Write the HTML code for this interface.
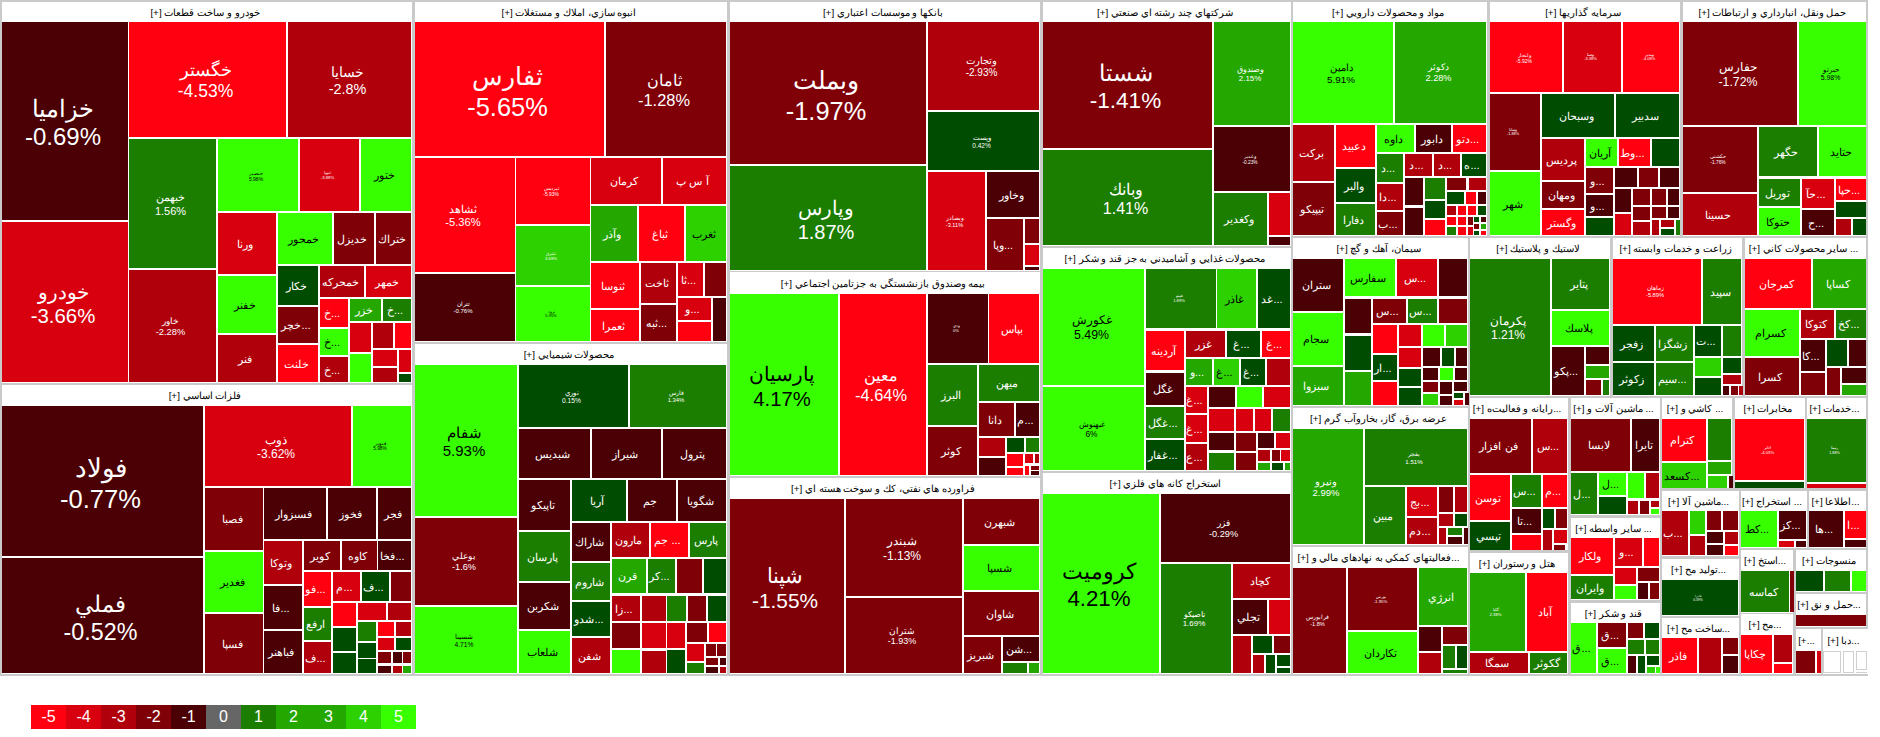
<!DOCTYPE html>
<html><head><meta charset="utf-8"><title>map</title>
<style>
html,body{margin:0;padding:0;background:#fff;}
body{width:1880px;height:737px;position:relative;overflow:hidden;font-family:"Liberation Sans",sans-serif;}
#m{position:absolute;left:0;top:0;width:1868px;height:676px;background:#cacaca;}
.s{position:absolute;background:#fff;}
.h{box-sizing:border-box;padding-right:4px;position:absolute;left:0;right:0;top:0;text-align:center;white-space:nowrap;overflow:hidden;color:#000;font-size:9.9px;direction:rtl;}
.c{box-sizing:border-box;padding-right:4px;position:absolute;display:flex;flex-direction:column;align-items:center;justify-content:center;overflow:hidden;white-space:nowrap;color:#fff;line-height:1.2;direction:ltr;}
.k{color:#000;}
.c span{display:block;}
.w{box-shadow:inset 0 0 0 1px #d0d0d0;}
#lg{position:absolute;left:31px;top:705px;height:24px;display:flex;}
#lg div{width:35px;height:24px;line-height:24px;text-align:center;color:#fff;font-size:16px;}
</style></head><body><div id="m">

<div class="s" style="left:2px;top:2px;width:410px;height:381px">
<div class="h" style="height:19px;line-height:21px">خودرو و ساخت قطعات [+]</div>
<div class="c" style="left:0px;top:20px;width:126px;height:198px;background:#4a0004"><span style="font-size:24.0px;height:28.8px;line-height:28.8px;margin-top:4.8px">خزاميا</span><span style="font-size:24.0px;height:28.8px;line-height:28.8px">-0.69%</span></div>
<div class="c" style="left:0px;top:220px;width:126px;height:160px;background:#d8000f"><span style="font-size:20.4px;height:24.5px;line-height:24.5px;margin-top:4.1px">خودرو</span><span style="font-size:20.4px;height:24.5px;line-height:24.5px">-3.66%</span></div>
<div class="c" style="left:127px;top:20px;width:157px;height:115px;background:#ff0010"><span style="font-size:17.5px;height:21.0px;line-height:21.0px;margin-top:3.5px">خگستر</span><span style="font-size:17.5px;height:21.0px;line-height:21.0px">-4.53%</span></div>
<div class="c" style="left:286px;top:20px;width:123px;height:115px;background:#b0000c"><span style="font-size:14.4px;height:17.3px;line-height:17.3px;margin-top:2.9px">خسايا</span><span style="font-size:14.4px;height:17.3px;line-height:17.3px">-2.8%</span></div>
<div class="c" style="left:127px;top:137px;width:87px;height:129px;background:#1c7e00"><span style="font-size:11.0px;height:13.2px;line-height:13.2px;margin-top:2.2px">خبهمن</span><span style="font-size:11.0px;height:13.2px;line-height:13.2px">1.56%</span></div>
<div class="c" style="left:127px;top:268px;width:87px;height:112px;background:#b0000c"><span style="font-size:9.3px;height:11.2px;line-height:11.2px;margin-top:1.9px">خاور</span><span style="font-size:9.3px;height:11.2px;line-height:11.2px">-2.28%</span></div>
<div class="c k" style="left:216px;top:137px;width:80px;height:72px;background:#37ff00"><span style="font-size:5.0px;height:6.0px;line-height:6.0px;margin-top:1.0px">خنصير</span><span style="font-size:5.0px;height:6.0px;line-height:6.0px">5.98%</span></div>
<div class="c" style="left:298px;top:137px;width:59px;height:72px;background:#d8000f"><span style="font-size:4.2px;height:5.0px;line-height:5.0px;margin-top:0.8px">خپويا</span><span style="font-size:4.2px;height:5.0px;line-height:5.0px">-3.88%</span></div>
<div class="c k" style="left:359px;top:137px;width:50px;height:72px;background:#37ff00"><span style="font-size:10.9px;margin-top:2px">ختور</span></div>
<div class="c" style="left:216px;top:211px;width:58px;height:61px;background:#d8000f"><span style="font-size:10.9px;margin-top:2px">ورنا</span></div>
<div class="c k" style="left:276px;top:211px;width:54px;height:51px;background:#37ff00"><span style="font-size:10.9px;margin-top:2px">خمحور</span></div>
<div class="c" style="left:332px;top:211px;width:40px;height:51px;background:#800008"><span style="font-size:10.9px;margin-top:2px">خديزل</span></div>
<div class="c" style="left:374px;top:211px;width:35px;height:51px;background:#800008"><span style="font-size:10.9px;margin-top:2px">ختراك</span></div>
<div class="c k" style="left:216px;top:274px;width:58px;height:57px;background:#37ff00"><span style="font-size:10.9px;margin-top:2px">خفنر</span></div>
<div class="c" style="left:216px;top:333px;width:58px;height:47px;background:#b0000c"><span style="font-size:10.9px;margin-top:2px">فنر</span></div>
<div class="c" style="left:276px;top:264px;width:40px;height:39px;background:#004c00"><span style="font-size:10.9px;margin-top:2px">خكار</span></div>
<div class="c" style="left:276px;top:305px;width:40px;height:36px;background:#800008"><span style="font-size:10.9px;margin-top:2px">خچر...</span></div>
<div class="c" style="left:276px;top:343px;width:40px;height:37px;background:#ff0010"><span style="font-size:10.9px;margin-top:2px">خلنت</span></div>
<div class="c" style="left:318px;top:264px;width:44px;height:31px;background:#b0000c"><span style="font-size:10.9px;margin-top:2px">خمحركه</span></div>
<div class="c" style="left:364px;top:264px;width:45px;height:31px;background:#d8000f"><span style="font-size:10.9px;margin-top:2px">خمهر</span></div>
<div class="c" style="left:318px;top:297px;width:28px;height:28px;background:#ff0010"><span style="font-size:10.9px;margin-top:2px">خ...</span></div>
<div class="c k" style="left:318px;top:327px;width:28px;height:26px;background:#37ff00"><span style="font-size:10.9px;margin-top:2px">خ...</span></div>
<div class="c" style="left:318px;top:355px;width:28px;height:25px;background:#b0000c"><span style="font-size:10.9px;margin-top:2px">خ...</span></div>
<div class="c" style="left:348px;top:297px;width:31px;height:22px;background:#24a800"><span style="font-size:10.9px;margin-top:2px">خزر</span></div>
<div class="c" style="left:381px;top:297px;width:28px;height:22px;background:#1c7e00"><span style="font-size:10.9px;margin-top:2px">خ...</span></div>
<div class="c" style="left:348px;top:321px;width:21px;height:29px;background:#d8000f"></div>
<div class="c" style="left:371px;top:321px;width:20px;height:25px;background:#b0000c"></div>
<div class="c" style="left:393px;top:321px;width:16px;height:25px;background:#ff0010"></div>
<div class="c k" style="left:348px;top:352px;width:21px;height:28px;background:#37ff00"></div>
<div class="c" style="left:371px;top:348px;width:24px;height:16px;background:#d8000f"></div>
<div class="c" style="left:397px;top:348px;width:12px;height:22px;background:#d8000f"></div>
<div class="c" style="left:371px;top:366px;width:24px;height:14px;background:#b0000c"></div>
<div class="c" style="left:397px;top:372px;width:12px;height:8px;background:#004c00"></div>
</div>
<div class="s" style="left:2px;top:385px;width:410px;height:289px">
<div class="h" style="height:20px;line-height:22px">فلزات اساسي [+]</div>
<div class="c" style="left:0px;top:21px;width:201px;height:150px;background:#4a0004"><span style="font-size:25.5px;height:30.6px;line-height:30.6px;margin-top:5.1px">فولاد</span><span style="font-size:25.5px;height:30.6px;line-height:30.6px">-0.77%</span></div>
<div class="c" style="left:0px;top:173px;width:201px;height:115px;background:#4a0004"><span style="font-size:23.3px;height:28.0px;line-height:28.0px;margin-top:4.7px">فملي</span><span style="font-size:23.3px;height:28.0px;line-height:28.0px">-0.52%</span></div>
<div class="c" style="left:203px;top:21px;width:146px;height:80px;background:#d8000f"><span style="font-size:12.0px;height:14.4px;line-height:14.4px;margin-top:2.4px">ذوب</span><span style="font-size:12.0px;height:14.4px;line-height:14.4px">-3.62%</span></div>
<div class="c k" style="left:351px;top:21px;width:58px;height:80px;background:#37ff00"><span style="font-size:4.7px;height:5.6px;line-height:5.6px;margin-top:0.9px">فنوير</span><span style="font-size:4.7px;height:5.6px;line-height:5.6px">5.98%</span></div>
<div class="c" style="left:203px;top:103px;width:58px;height:62px;background:#800008"><span style="font-size:10.9px;margin-top:2px">فصبا</span></div>
<div class="c k" style="left:203px;top:167px;width:58px;height:60px;background:#37ff00"><span style="font-size:10.9px;margin-top:2px">فغدير</span></div>
<div class="c" style="left:203px;top:229px;width:58px;height:59px;background:#800008"><span style="font-size:10.9px;margin-top:2px">فسپا</span></div>
<div class="c" style="left:262px;top:103px;width:62px;height:51px;background:#4a0004"><span style="font-size:10.9px;margin-top:2px">فسبزوار</span></div>
<div class="c" style="left:326px;top:103px;width:48px;height:51px;background:#4a0004"><span style="font-size:10.9px;margin-top:2px">فخوز</span></div>
<div class="c" style="left:376px;top:103px;width:33px;height:51px;background:#4a0004"><span style="font-size:10.9px;margin-top:2px">فجر</span></div>
<div class="c" style="left:262px;top:156px;width:38px;height:43px;background:#b0000c"><span style="font-size:10.9px;margin-top:2px">وتوكا</span></div>
<div class="c" style="left:262px;top:201px;width:38px;height:43px;background:#4a0004"><span style="font-size:10.9px;margin-top:2px">فا...</span></div>
<div class="c" style="left:262px;top:246px;width:38px;height:42px;background:#4a0004"><span style="font-size:10.9px;margin-top:2px">فباهنر</span></div>
<div class="c" style="left:302px;top:156px;width:36px;height:29px;background:#800008"><span style="font-size:10.9px;margin-top:2px">كوير</span></div>
<div class="c" style="left:340px;top:156px;width:35px;height:29px;background:#800008"><span style="font-size:10.9px;margin-top:2px">كاوه</span></div>
<div class="c" style="left:376px;top:156px;width:33px;height:29px;background:#4a0004"><span style="font-size:10.9px;margin-top:2px">فخا...</span></div>
<div class="c" style="left:302px;top:187px;width:27px;height:34px;background:#ff0010"><span style="font-size:10.9px;margin-top:2px">فو...</span></div>
<div class="c" style="left:331px;top:187px;width:27px;height:29px;background:#d8000f"><span style="font-size:10.9px;margin-top:2px">م...</span></div>
<div class="c" style="left:360px;top:187px;width:27px;height:29px;background:#004c00"><span style="font-size:10.9px;margin-top:2px">ف...</span></div>
<div class="c" style="left:389px;top:187px;width:20px;height:29px;background:#800008"></div>
<div class="c" style="left:302px;top:223px;width:27px;height:32px;background:#1c7e00"><span style="font-size:10.9px;margin-top:2px">ارفع</span></div>
<div class="c" style="left:302px;top:257px;width:27px;height:31px;background:#b0000c"><span style="font-size:10.9px;margin-top:2px">ف...</span></div>
<div class="c" style="left:331px;top:218px;width:23px;height:23px;background:#ff0010"></div>
<div class="c" style="left:356px;top:218px;width:28px;height:17px;background:#d8000f"></div>
<div class="c" style="left:386px;top:218px;width:23px;height:17px;background:#b0000c"></div>
<div class="c" style="left:331px;top:243px;width:23px;height:23px;background:#004c00"></div>
<div class="c" style="left:331px;top:268px;width:23px;height:20px;background:#004c00"></div>
<div class="c" style="left:356px;top:237px;width:18px;height:19px;background:#1c7e00"></div>
<div class="c" style="left:356px;top:258px;width:18px;height:15px;background:#004c00"></div>
<div class="c" style="left:356px;top:274px;width:18px;height:14px;background:#004c00"></div>
<div class="c" style="left:376px;top:237px;width:16px;height:14px;background:#ff0010"></div>
<div class="c" style="left:394px;top:237px;width:15px;height:14px;background:#b0000c"></div>
<div class="c" style="left:376px;top:253px;width:16px;height:12px;background:#d8000f"></div>
<div class="c" style="left:394px;top:253px;width:15px;height:12px;background:#004c00"></div>
<div class="c" style="left:376px;top:267px;width:13px;height:11px;background:#800008"></div>
<div class="c" style="left:391px;top:267px;width:9px;height:11px;background:#4a0004"></div>
<div class="c" style="left:401px;top:267px;width:8px;height:11px;background:#800008"></div>
<div class="c" style="left:376px;top:281px;width:13px;height:7px;background:#4a0004"></div>
<div class="c" style="left:391px;top:281px;width:9px;height:7px;background:#b0000c"></div>
<div class="c" style="left:401px;top:281px;width:8px;height:7px;background:#24a800"></div>
</div>
<div class="s" style="left:415px;top:2px;width:312px;height:340px">
<div class="h" style="height:19px;line-height:21px">انبوه سازي، املاك و مستغلات [+]</div>
<div class="c" style="left:0px;top:20px;width:189px;height:134px;background:#ff0010"><span style="font-size:25.4px;height:30.5px;line-height:30.5px;margin-top:5.1px">ثفارس</span><span style="font-size:25.4px;height:30.5px;line-height:30.5px">-5.65%</span></div>
<div class="c" style="left:191px;top:20px;width:120px;height:134px;background:#800008"><span style="font-size:16.4px;height:19.7px;line-height:19.7px;margin-top:3.3px">ثامان</span><span style="font-size:16.4px;height:19.7px;line-height:19.7px">-1.28%</span></div>
<div class="c" style="left:0px;top:156px;width:100px;height:114px;background:#ff0010"><span style="font-size:11.2px;height:13.4px;line-height:13.4px;margin-top:2.2px">ثشاهد</span><span style="font-size:11.2px;height:13.4px;line-height:13.4px">-5.36%</span></div>
<div class="c" style="left:0px;top:272px;width:100px;height:67px;background:#4a0004"><span style="font-size:6.0px;height:7.2px;line-height:7.2px;margin-top:1.2px">ثتران</span><span style="font-size:6.0px;height:7.2px;line-height:7.2px">-0.76%</span></div>
<div class="c" style="left:101px;top:156px;width:74px;height:66px;background:#ff0010"><span style="font-size:4.9px;height:5.9px;line-height:5.9px;margin-top:1.0px">ثپرديس</span><span style="font-size:4.9px;height:5.9px;line-height:5.9px">-5.93%</span></div>
<div class="c" style="left:101px;top:224px;width:74px;height:59px;background:#2dd100"><span style="font-size:4.3px;height:5.2px;line-height:5.2px;margin-top:0.9px">ثشرق</span><span style="font-size:4.3px;height:5.2px;line-height:5.2px">3.69%</span></div>
<div class="c k" style="left:101px;top:285px;width:74px;height:54px;background:#37ff00"><span style="font-size:4.0px;height:4.8px;line-height:4.8px;margin-top:0.8px">ثرود</span><span style="font-size:4.0px;height:4.8px;line-height:4.8px">5.95%</span></div>
<div class="c" style="left:176px;top:156px;width:70px;height:46px;background:#d8000f"><span style="font-size:10.9px;margin-top:2px">كرمان</span></div>
<div class="c" style="left:248px;top:156px;width:63px;height:46px;background:#d8000f"><span style="font-size:10.9px;margin-top:2px">آ س پ</span></div>
<div class="c" style="left:176px;top:204px;width:46px;height:55px;background:#24a800"><span style="font-size:10.9px;margin-top:2px">وآذر</span></div>
<div class="c" style="left:224px;top:204px;width:45px;height:55px;background:#ff0010"><span style="font-size:10.9px;margin-top:2px">ثباغ</span></div>
<div class="c k" style="left:271px;top:204px;width:40px;height:55px;background:#2dd100"><span style="font-size:10.9px;margin-top:2px">ثغرب</span></div>
<div class="c" style="left:176px;top:261px;width:48px;height:45px;background:#ff0010"><span style="font-size:10.9px;margin-top:2px">ثنوسا</span></div>
<div class="c" style="left:176px;top:308px;width:48px;height:31px;background:#ff0010"><span style="font-size:10.9px;margin-top:2px">ثعمرا</span></div>
<div class="c" style="left:226px;top:261px;width:35px;height:40px;background:#b0000c"><span style="font-size:10.9px;margin-top:2px">ثاخت</span></div>
<div class="c" style="left:226px;top:303px;width:35px;height:36px;background:#800008"><span style="font-size:10.9px;margin-top:2px">ثبه...</span></div>
<div class="c" style="left:263px;top:261px;width:25px;height:33px;background:#d8000f"><span style="font-size:10.9px;margin-top:2px">ثا...</span></div>
<div class="c" style="left:290px;top:261px;width:21px;height:33px;background:#800008"></div>
<div class="c" style="left:263px;top:296px;width:33px;height:22px;background:#d8000f"><span style="font-size:10.9px;margin-top:2px">و...</span></div>
<div class="c" style="left:263px;top:320px;width:33px;height:19px;background:#ff0010"></div>
<div class="c" style="left:298px;top:296px;width:13px;height:43px;background:#4a0004"></div>
</div>
<div class="s" style="left:415px;top:344px;width:312px;height:330px">
<div class="h" style="height:20px;line-height:22px">محصولات شيميايي [+]</div>
<div class="c k" style="left:0px;top:21px;width:102px;height:151px;background:#37ff00"><span style="font-size:15.0px;height:18.0px;line-height:18.0px;margin-top:3.0px">شفام</span><span style="font-size:15.0px;height:18.0px;line-height:18.0px">5.93%</span></div>
<div class="c" style="left:0px;top:174px;width:102px;height:87px;background:#800008"><span style="font-size:9.2px;height:11.0px;line-height:11.0px;margin-top:1.8px">بوعلي</span><span style="font-size:9.2px;height:11.0px;line-height:11.0px">-1.6%</span></div>
<div class="c k" style="left:0px;top:263px;width:102px;height:66px;background:#37ff00"><span style="font-size:6.7px;height:8.0px;line-height:8.0px;margin-top:1.3px">شسينا</span><span style="font-size:6.7px;height:8.0px;line-height:8.0px">4.71%</span></div>
<div class="c" style="left:104px;top:21px;width:109px;height:62px;background:#004c00"><span style="font-size:6.7px;height:8.0px;line-height:8.0px;margin-top:1.3px">نوري</span><span style="font-size:6.7px;height:8.0px;line-height:8.0px">0.15%</span></div>
<div class="c" style="left:215px;top:21px;width:96px;height:62px;background:#1c7e00"><span style="font-size:5.9px;height:7.1px;line-height:7.1px;margin-top:1.2px">فارس</span><span style="font-size:5.9px;height:7.1px;line-height:7.1px">1.34%</span></div>
<div class="c" style="left:104px;top:85px;width:71px;height:49px;background:#4a0004"><span style="font-size:10.9px;margin-top:2px">شبديس</span></div>
<div class="c" style="left:177px;top:85px;width:69px;height:49px;background:#4a0004"><span style="font-size:10.9px;margin-top:2px">شيراز</span></div>
<div class="c" style="left:248px;top:85px;width:63px;height:49px;background:#4a0004"><span style="font-size:10.9px;margin-top:2px">پترول</span></div>
<div class="c" style="left:104px;top:136px;width:51px;height:50px;background:#4a0004"><span style="font-size:10.9px;margin-top:2px">تاپيكو</span></div>
<div class="c" style="left:104px;top:188px;width:51px;height:49px;background:#1c7e00"><span style="font-size:10.9px;margin-top:2px">پارسان</span></div>
<div class="c" style="left:104px;top:239px;width:51px;height:46px;background:#4a0004"><span style="font-size:10.9px;margin-top:2px">شكربن</span></div>
<div class="c k" style="left:104px;top:287px;width:51px;height:42px;background:#37ff00"><span style="font-size:10.9px;margin-top:2px">شلعاب</span></div>
<div class="c" style="left:157px;top:136px;width:54px;height:41px;background:#004c00"><span style="font-size:10.9px;margin-top:2px">آريا</span></div>
<div class="c" style="left:213px;top:136px;width:48px;height:41px;background:#4a0004"><span style="font-size:10.9px;margin-top:2px">جم</span></div>
<div class="c" style="left:263px;top:136px;width:48px;height:41px;background:#4a0004"><span style="font-size:10.9px;margin-top:2px">شگويا</span></div>
<div class="c" style="left:157px;top:179px;width:38px;height:38px;background:#4a0004"><span style="font-size:10.9px;margin-top:2px">شاراك</span></div>
<div class="c" style="left:157px;top:219px;width:38px;height:37px;background:#1c7e00"><span style="font-size:10.9px;margin-top:2px">شاروم</span></div>
<div class="c" style="left:157px;top:258px;width:38px;height:34px;background:#004c00"><span style="font-size:10.9px;margin-top:2px">شدو...</span></div>
<div class="c" style="left:157px;top:294px;width:38px;height:35px;background:#b0000c"><span style="font-size:10.9px;margin-top:2px">شفن</span></div>
<div class="c" style="left:197px;top:179px;width:37px;height:34px;background:#b0000c"><span style="font-size:10.9px;margin-top:2px">مارون</span></div>
<div class="c" style="left:236px;top:179px;width:37px;height:34px;background:#ff0010"><span style="font-size:10.9px;margin-top:2px">جم ...</span></div>
<div class="c" style="left:275px;top:179px;width:36px;height:34px;background:#1c7e00"><span style="font-size:10.9px;margin-top:2px">پارس</span></div>
<div class="c" style="left:197px;top:215px;width:34px;height:34px;background:#24a800"><span style="font-size:10.9px;margin-top:2px">قرن</span></div>
<div class="c" style="left:233px;top:215px;width:27px;height:34px;background:#1c7e00"><span style="font-size:10.9px;margin-top:2px">كر...</span></div>
<div class="c" style="left:262px;top:215px;width:25px;height:34px;background:#800008"></div>
<div class="c" style="left:289px;top:215px;width:22px;height:34px;background:#004c00"></div>
<div class="c" style="left:197px;top:252px;width:28px;height:25px;background:#b0000c"><span style="font-size:10.9px;margin-top:2px">زا...</span></div>
<div class="c" style="left:227px;top:252px;width:24px;height:25px;background:#b0000c"></div>
<div class="c" style="left:252px;top:252px;width:19px;height:25px;background:#1c7e00"></div>
<div class="c" style="left:273px;top:252px;width:18px;height:25px;background:#800008"></div>
<div class="c" style="left:293px;top:252px;width:18px;height:25px;background:#004c00"></div>
<div class="c" style="left:197px;top:279px;width:28px;height:25px;background:#800008"></div>
<div class="c k" style="left:197px;top:306px;width:28px;height:23px;background:#37ff00"></div>
<div class="c" style="left:227px;top:279px;width:24px;height:25px;background:#d8000f"></div>
<div class="c" style="left:252px;top:279px;width:18px;height:25px;background:#d8000f"></div>
<div class="c" style="left:227px;top:307px;width:24px;height:22px;background:#b0000c"></div>
<div class="c" style="left:252px;top:306px;width:18px;height:23px;background:#004c00"></div>
<div class="c" style="left:272px;top:279px;width:20px;height:19px;background:#800008"></div>
<div class="c" style="left:294px;top:279px;width:17px;height:19px;background:#ff0010"></div>
<div class="c" style="left:272px;top:300px;width:17px;height:17px;background:#d8000f"></div>
<div class="c" style="left:272px;top:319px;width:17px;height:10px;background:#1c7e00"></div>
<div class="c" style="left:291px;top:300px;width:10px;height:12px;background:#800008"></div>
<div class="c" style="left:302px;top:300px;width:9px;height:12px;background:#800008"></div>
<div class="c" style="left:291px;top:314px;width:12px;height:7px;background:#800008"></div>
<div class="c" style="left:305px;top:314px;width:6px;height:7px;background:#4a0004"></div>
<div class="c" style="left:291px;top:323px;width:12px;height:6px;background:#4a0004"></div>
<div class="c" style="left:305px;top:323px;width:6px;height:6px;background:#b0000c"></div>
</div>
<div class="s" style="left:730px;top:2px;width:310px;height:269px">
<div class="h" style="height:19px;line-height:21px">بانكها و موسسات اعتباري [+]</div>
<div class="c" style="left:0px;top:20px;width:196px;height:142px;background:#800008"><span style="font-size:25.4px;height:30.5px;line-height:30.5px;margin-top:5.1px">وبملت</span><span style="font-size:25.4px;height:30.5px;line-height:30.5px">-1.97%</span></div>
<div class="c" style="left:0px;top:164px;width:196px;height:104px;background:#1c7e00"><span style="font-size:20.0px;height:24.0px;line-height:24.0px;margin-top:4.0px">وپارس</span><span style="font-size:20.0px;height:24.0px;line-height:24.0px">1.87%</span></div>
<div class="c" style="left:198px;top:20px;width:111px;height:88px;background:#b0000c"><span style="font-size:10.0px;height:12.0px;line-height:12.0px;margin-top:2.0px">وتجارت</span><span style="font-size:10.0px;height:12.0px;line-height:12.0px">-2.93%</span></div>
<div class="c" style="left:198px;top:110px;width:111px;height:58px;background:#004c00"><span style="font-size:6.5px;height:7.8px;line-height:7.8px;margin-top:1.3px">وپست</span><span style="font-size:6.5px;height:7.8px;line-height:7.8px">0.42%</span></div>
<div class="c" style="left:198px;top:170px;width:57px;height:98px;background:#d8000f"><span style="font-size:5.6px;height:6.7px;line-height:6.7px;margin-top:1.1px">وبصادر</span><span style="font-size:5.6px;height:6.7px;line-height:6.7px">-3.11%</span></div>
<div class="c" style="left:257px;top:170px;width:52px;height:45px;background:#4a0004"><span style="font-size:10.9px;margin-top:2px">وخاور</span></div>
<div class="c" style="left:257px;top:217px;width:36px;height:51px;background:#800008"><span style="font-size:10.9px;margin-top:2px">وپا...</span></div>
<div class="c" style="left:295px;top:217px;width:14px;height:24px;background:#800008"></div>
<div class="c" style="left:295px;top:243px;width:14px;height:20px;background:#d8000f"></div>
<div class="c" style="left:295px;top:265px;width:14px;height:3px;background:#4a0004"></div>
</div>
<div class="s" style="left:730px;top:272px;width:310px;height:204px">
<div class="h" style="height:21px;line-height:23px">بيمه وصندوق بازنشستگي به جزتامين اجتماعي [+]</div>
<div class="c k" style="left:0px;top:22px;width:108px;height:181px;background:#37ff00"><span style="font-size:20.3px;height:24.4px;line-height:24.4px;margin-top:4.1px">پارسيان</span><span style="font-size:20.3px;height:24.4px;line-height:24.4px">4.17%</span></div>
<div class="c" style="left:110px;top:22px;width:86px;height:181px;background:#ff0010"><span style="font-size:16.4px;height:19.7px;line-height:19.7px;margin-top:3.3px">معين</span><span style="font-size:16.4px;height:19.7px;line-height:19.7px">-4.64%</span></div>
<div class="c" style="left:198px;top:22px;width:60px;height:69px;background:#4a0004"><span style="font-size:4.0px;height:4.8px;line-height:4.8px;margin-top:0.8px">ودي</span><span style="font-size:4.0px;height:4.8px;line-height:4.8px">0%</span></div>
<div class="c" style="left:259px;top:22px;width:50px;height:69px;background:#ff0010"><span style="font-size:10.9px;margin-top:2px">بپاس</span></div>
<div class="c" style="left:198px;top:93px;width:49px;height:60px;background:#1c7e00"><span style="font-size:10.9px;margin-top:2px">البرز</span></div>
<div class="c" style="left:198px;top:155px;width:49px;height:48px;background:#800008"><span style="font-size:10.9px;margin-top:2px">كوثر</span></div>
<div class="c" style="left:249px;top:93px;width:60px;height:36px;background:#1c7e00"><span style="font-size:10.9px;margin-top:2px">ميهن</span></div>
<div class="c" style="left:249px;top:131px;width:35px;height:33px;background:#800008"><span style="font-size:10.9px;margin-top:2px">دانا</span></div>
<div class="c" style="left:286px;top:131px;width:23px;height:33px;background:#4a0004"><span style="font-size:10.9px;margin-top:2px">م...</span></div>
<div class="c" style="left:249px;top:166px;width:26px;height:18px;background:#b0000c"></div>
<div class="c" style="left:249px;top:186px;width:26px;height:17px;background:#4a0004"></div>
<div class="c" style="left:277px;top:166px;width:17px;height:14px;background:#004c00"></div>
<div class="c" style="left:296px;top:166px;width:13px;height:14px;background:#1c7e00"></div>
<div class="c" style="left:277px;top:182px;width:16px;height:12px;background:#ff0010"></div>
<div class="c" style="left:277px;top:196px;width:16px;height:7px;background:#ff0010"></div>
<div class="c" style="left:295px;top:182px;width:8px;height:9px;background:#d8000f"></div>
<div class="c" style="left:305px;top:182px;width:4px;height:9px;background:#b0000c"></div>
<div class="c" style="left:295px;top:194px;width:4px;height:9px;background:#ff0010"></div>
<div class="c" style="left:301px;top:194px;width:8px;height:4px;background:#800008"></div>
<div class="c" style="left:301px;top:199px;width:8px;height:4px;background:#4a0004"></div>
</div>
<div class="s" style="left:730px;top:478px;width:310px;height:196px">
<div class="h" style="height:20px;line-height:22px">فراورده هاي نفتي، كك و سوخت هسته اي [+]</div>
<div class="c" style="left:0px;top:21px;width:114px;height:174px;background:#800008"><span style="font-size:20.8px;height:25.0px;line-height:25.0px;margin-top:4.2px">شپنا</span><span style="font-size:20.8px;height:25.0px;line-height:25.0px">-1.55%</span></div>
<div class="c" style="left:116px;top:21px;width:116px;height:97px;background:#800008"><span style="font-size:12.0px;height:14.4px;line-height:14.4px;margin-top:2.4px">شبندر</span><span style="font-size:12.0px;height:14.4px;line-height:14.4px">-1.13%</span></div>
<div class="c" style="left:116px;top:120px;width:116px;height:75px;background:#800008"><span style="font-size:9.0px;height:10.8px;line-height:10.8px;margin-top:1.8px">شتران</span><span style="font-size:9.0px;height:10.8px;line-height:10.8px">-1.93%</span></div>
<div class="c" style="left:234px;top:21px;width:75px;height:45px;background:#800008"><span style="font-size:10.9px;margin-top:2px">شبهرن</span></div>
<div class="c k" style="left:234px;top:68px;width:75px;height:44px;background:#37ff00"><span style="font-size:10.9px;margin-top:2px">شسپا</span></div>
<div class="c" style="left:234px;top:114px;width:75px;height:43px;background:#800008"><span style="font-size:10.9px;margin-top:2px">شاوان</span></div>
<div class="c" style="left:234px;top:159px;width:37px;height:36px;background:#800008"><span style="font-size:10.9px;margin-top:2px">شبريز</span></div>
<div class="c" style="left:273px;top:159px;width:36px;height:24px;background:#4a0004"><span style="font-size:10.9px;margin-top:2px">شن...</span></div>
<div class="c" style="left:273px;top:185px;width:24px;height:10px;background:#1c7e00"></div>
<div class="c" style="left:299px;top:185px;width:10px;height:10px;background:#24a800"></div>
</div>
<div class="s" style="left:1043px;top:2px;width:248px;height:244px">
<div class="h" style="height:19px;line-height:21px">شركتهاي چند رشته اي صنعتي [+]</div>
<div class="c" style="left:0px;top:20px;width:169px;height:126px;background:#800008"><span style="font-size:22.5px;height:27.0px;line-height:27.0px;margin-top:4.5px">شستا</span><span style="font-size:22.5px;height:27.0px;line-height:27.0px">-1.41%</span></div>
<div class="c" style="left:0px;top:148px;width:169px;height:95px;background:#1c7e00"><span style="font-size:16.0px;height:19.2px;line-height:19.2px;margin-top:3.2px">وبانك</span><span style="font-size:16.0px;height:19.2px;line-height:19.2px">1.41%</span></div>
<div class="c" style="left:171px;top:20px;width:76px;height:103px;background:#24a800"><span style="font-size:7.9px;height:9.5px;line-height:9.5px;margin-top:1.6px">وصندوق</span><span style="font-size:7.9px;height:9.5px;line-height:9.5px">2.15%</span></div>
<div class="c" style="left:171px;top:125px;width:76px;height:64px;background:#4a0004"><span style="font-size:4.8px;height:5.8px;line-height:5.8px;margin-top:1.0px">وغدير</span><span style="font-size:4.8px;height:5.8px;line-height:5.8px">-0.23%</span></div>
<div class="c" style="left:171px;top:191px;width:53px;height:52px;background:#1c7e00"><span style="font-size:10.9px;margin-top:2px">وكغدير</span></div>
<div class="c" style="left:226px;top:191px;width:21px;height:42px;background:#d8000f"></div>
<div class="c" style="left:226px;top:235px;width:21px;height:8px;background:#4a0004"></div>
</div>
<div class="s" style="left:1043px;top:248px;width:248px;height:223px">
<div class="h" style="height:20px;line-height:22px">محصولات غذايي و آشاميدني به جز قند و شكر [+]</div>
<div class="c k" style="left:0px;top:21px;width:101px;height:116px;background:#37ff00"><span style="font-size:12.3px;height:14.8px;line-height:14.8px;margin-top:2.5px">غكورش</span><span style="font-size:12.3px;height:14.8px;line-height:14.8px">5.49%</span></div>
<div class="c k" style="left:0px;top:139px;width:101px;height:83px;background:#37ff00"><span style="font-size:8.4px;height:10.1px;line-height:10.1px;margin-top:1.7px">غبهنوش</span><span style="font-size:8.4px;height:10.1px;line-height:10.1px">6%</span></div>
<div class="c" style="left:103px;top:21px;width:70px;height:59px;background:#1c7e00"><span style="font-size:4.1px;height:4.9px;line-height:4.9px;margin-top:0.8px">غپينو</span><span style="font-size:4.1px;height:4.9px;line-height:4.9px">1.89%</span></div>
<div class="c k" style="left:174px;top:21px;width:39px;height:59px;background:#2dd100"><span style="font-size:10.9px;margin-top:2px">غاذر</span></div>
<div class="c" style="left:215px;top:21px;width:32px;height:59px;background:#004c00"><span style="font-size:10.9px;margin-top:2px">غد...</span></div>
<div class="c" style="left:103px;top:83px;width:38px;height:39px;background:#ff0010"><span style="font-size:10.9px;margin-top:2px">آردينه</span></div>
<div class="c" style="left:103px;top:125px;width:38px;height:32px;background:#4a0004"><span style="font-size:10.9px;margin-top:2px">غگل</span></div>
<div class="c" style="left:103px;top:159px;width:38px;height:31px;background:#1c7e00"><span style="font-size:10.9px;margin-top:2px">غگل...</span></div>
<div class="c" style="left:103px;top:192px;width:38px;height:30px;background:#004c00"><span style="font-size:10.9px;margin-top:2px">غفار...</span></div>
<div class="c" style="left:143px;top:83px;width:39px;height:26px;background:#b0000c"><span style="font-size:10.9px;margin-top:2px">غزر</span></div>
<div class="c" style="left:184px;top:83px;width:33px;height:26px;background:#004c00"><span style="font-size:10.9px;margin-top:2px">غ...</span></div>
<div class="c" style="left:219px;top:83px;width:28px;height:26px;background:#ff0010"><span style="font-size:10.9px;margin-top:2px">غ...</span></div>
<div class="c" style="left:143px;top:111px;width:26px;height:26px;background:#24a800"><span style="font-size:10.9px;margin-top:2px">و...</span></div>
<div class="c k" style="left:171px;top:111px;width:25px;height:26px;background:#2dd100"><span style="font-size:10.9px;margin-top:2px">غ...</span></div>
<div class="c" style="left:198px;top:111px;width:24px;height:26px;background:#004c00"><span style="font-size:10.9px;margin-top:2px">غ...</span></div>
<div class="c" style="left:224px;top:111px;width:23px;height:26px;background:#b0000c"></div>
<div class="c" style="left:143px;top:139px;width:21px;height:26px;background:#d8000f"><span style="font-size:10.9px;margin-top:2px">غ...</span></div>
<div class="c" style="left:143px;top:167px;width:21px;height:27px;background:#d8000f"><span style="font-size:10.9px;margin-top:2px">غ...</span></div>
<div class="c" style="left:143px;top:196px;width:21px;height:26px;background:#b0000c"><span style="font-size:10.9px;margin-top:2px">ع...</span></div>
<div class="c" style="left:166px;top:139px;width:26px;height:20px;background:#4a0004"></div>
<div class="c k" style="left:194px;top:139px;width:25px;height:20px;background:#37ff00"></div>
<div class="c" style="left:221px;top:139px;width:26px;height:20px;background:#d8000f"></div>
<div class="c" style="left:166px;top:161px;width:25px;height:22px;background:#d8000f"></div>
<div class="c" style="left:193px;top:161px;width:17px;height:22px;background:#d8000f"></div>
<div class="c" style="left:212px;top:161px;width:16px;height:22px;background:#d8000f"></div>
<div class="c" style="left:230px;top:161px;width:17px;height:22px;background:#1c7e00"></div>
<div class="c" style="left:166px;top:185px;width:25px;height:17px;background:#4a0004"></div>
<div class="c" style="left:166px;top:205px;width:25px;height:17px;background:#1c7e00"></div>
<div class="c" style="left:193px;top:185px;width:20px;height:18px;background:#800008"></div>
<div class="c" style="left:193px;top:205px;width:20px;height:17px;background:#800008"></div>
<div class="c" style="left:215px;top:185px;width:16px;height:15px;background:#4a0004"></div>
<div class="c" style="left:233px;top:185px;width:14px;height:15px;background:#d8000f"></div>
<div class="c" style="left:215px;top:202px;width:12px;height:11px;background:#b0000c"></div>
<div class="c" style="left:229px;top:202px;width:8px;height:11px;background:#800008"></div>
<div class="c" style="left:238px;top:202px;width:9px;height:11px;background:#d8000f"></div>
<div class="c" style="left:215px;top:215px;width:12px;height:7px;background:#24a800"></div>
<div class="c" style="left:229px;top:215px;width:11px;height:7px;background:#004c00"></div>
<div class="c" style="left:242px;top:215px;width:5px;height:7px;background:#24a800"></div>
</div>
<div class="s" style="left:1043px;top:473px;width:248px;height:201px">
<div class="h" style="height:20px;line-height:22px">استخراج كانه هاي فلزي [+]</div>
<div class="c k" style="left:0px;top:21px;width:116px;height:179px;background:#37ff00"><span style="font-size:22.3px;height:26.8px;line-height:26.8px;margin-top:4.5px">كروميت</span><span style="font-size:22.3px;height:26.8px;line-height:26.8px">4.21%</span></div>
<div class="c" style="left:118px;top:21px;width:129px;height:68px;background:#4a0004"><span style="font-size:9.2px;height:11.0px;line-height:11.0px;margin-top:1.8px">فزر</span><span style="font-size:9.2px;height:11.0px;line-height:11.0px">-0.29%</span></div>
<div class="c" style="left:118px;top:91px;width:70px;height:109px;background:#1c7e00"><span style="font-size:8.0px;height:9.6px;line-height:9.6px;margin-top:1.6px">تاصيكو</span><span style="font-size:8.0px;height:9.6px;line-height:9.6px">1.69%</span></div>
<div class="c" style="left:190px;top:91px;width:57px;height:34px;background:#b0000c"><span style="font-size:10.9px;margin-top:2px">كچاد</span></div>
<div class="c" style="left:190px;top:127px;width:34px;height:34px;background:#4a0004"><span style="font-size:10.9px;margin-top:2px">تجلي</span></div>
<div class="c" style="left:226px;top:127px;width:21px;height:34px;background:#d8000f"></div>
<div class="c" style="left:190px;top:163px;width:18px;height:37px;background:#b0000c"></div>
<div class="c" style="left:210px;top:163px;width:19px;height:17px;background:#004c00"></div>
<div class="c" style="left:231px;top:163px;width:16px;height:17px;background:#800008"></div>
<div class="c" style="left:210px;top:182px;width:11px;height:18px;background:#b0000c"></div>
<div class="c" style="left:223px;top:182px;width:9px;height:18px;background:#004c00"></div>
<div class="c" style="left:234px;top:182px;width:13px;height:11px;background:#004c00"></div>
<div class="c" style="left:234px;top:195px;width:13px;height:5px;background:#004c00"></div>
</div>
<div class="s" style="left:1293px;top:2px;width:194px;height:234px">
<div class="h" style="height:19px;line-height:21px">مواد و محصولات دارويي [+]</div>
<div class="c k" style="left:0px;top:20px;width:100px;height:101px;background:#37ff00"><span style="font-size:9.9px;height:11.9px;line-height:11.9px;margin-top:2.0px">دامين</span><span style="font-size:9.9px;height:11.9px;line-height:11.9px">5.91%</span></div>
<div class="c" style="left:102px;top:20px;width:91px;height:101px;background:#24a800"><span style="font-size:9.2px;height:11.0px;line-height:11.0px;margin-top:1.8px">دكوثر</span><span style="font-size:9.2px;height:11.0px;line-height:11.0px">2.28%</span></div>
<div class="c" style="left:0px;top:123px;width:41px;height:56px;background:#b0000c"><span style="font-size:10.9px;margin-top:2px">بركت</span></div>
<div class="c" style="left:0px;top:181px;width:41px;height:52px;background:#800008"><span style="font-size:10.9px;margin-top:2px">تيپيكو</span></div>
<div class="c" style="left:43px;top:123px;width:39px;height:42px;background:#ff0010"><span style="font-size:10.9px;margin-top:2px">دعبيد</span></div>
<div class="c" style="left:43px;top:167px;width:39px;height:33px;background:#004c00"><span style="font-size:10.9px;margin-top:2px">والبر</span></div>
<div class="c" style="left:43px;top:202px;width:39px;height:31px;background:#1c7e00"><span style="font-size:10.9px;margin-top:2px">دفارا</span></div>
<div class="c k" style="left:84px;top:123px;width:37px;height:27px;background:#37ff00"><span style="font-size:10.9px;margin-top:2px">داوه</span></div>
<div class="c" style="left:123px;top:123px;width:35px;height:27px;background:#4a0004"><span style="font-size:10.9px;margin-top:2px">دابور</span></div>
<div class="c" style="left:160px;top:123px;width:33px;height:27px;background:#ff0010"><span style="font-size:10.9px;margin-top:2px">دتو...</span></div>
<div class="c" style="left:84px;top:152px;width:26px;height:28px;background:#1c7e00"><span style="font-size:10.9px;margin-top:2px">د...</span></div>
<div class="c" style="left:84px;top:182px;width:26px;height:26px;background:#b0000c"><span style="font-size:10.9px;margin-top:2px">دا...</span></div>
<div class="c" style="left:84px;top:210px;width:26px;height:23px;background:#800008"><span style="font-size:10.9px;margin-top:2px">ب...</span></div>
<div class="c" style="left:112px;top:152px;width:27px;height:22px;background:#b0000c"><span style="font-size:10.9px;margin-top:2px">د...</span></div>
<div class="c" style="left:141px;top:152px;width:26px;height:22px;background:#b0000c"><span style="font-size:10.9px;margin-top:2px">د...</span></div>
<div class="c" style="left:169px;top:152px;width:24px;height:22px;background:#004c00"><span style="font-size:10.9px;margin-top:2px">ه...</span></div>
<div class="c" style="left:112px;top:176px;width:18px;height:27px;background:#4a0004"></div>
<div class="c" style="left:112px;top:206px;width:18px;height:27px;background:#4a0004"></div>
<div class="c" style="left:132px;top:176px;width:20px;height:21px;background:#1c7e00"></div>
<div class="c" style="left:132px;top:199px;width:20px;height:17px;background:#004c00"></div>
<div class="c" style="left:132px;top:218px;width:20px;height:15px;background:#ff0010"></div>
<div class="c" style="left:154px;top:176px;width:19px;height:12px;background:#800008"></div>
<div class="c" style="left:176px;top:176px;width:17px;height:12px;background:#b0000c"></div>
<div class="c" style="left:154px;top:190px;width:17px;height:12px;background:#004c00"></div>
<div class="c" style="left:173px;top:190px;width:10px;height:12px;background:#ff0010"></div>
<div class="c" style="left:185px;top:190px;width:8px;height:12px;background:#4a0004"></div>
<div class="c" style="left:154px;top:204px;width:9px;height:9px;background:#b0000c"></div>
<div class="c" style="left:165px;top:204px;width:8px;height:9px;background:#ff0010"></div>
<div class="c" style="left:175px;top:204px;width:8px;height:9px;background:#ff0010"></div>
<div class="c" style="left:185px;top:204px;width:8px;height:9px;background:#004c00"></div>
<div class="c" style="left:154px;top:215px;width:9px;height:8px;background:#ff0010"></div>
<div class="c" style="left:165px;top:215px;width:8px;height:8px;background:#ff0010"></div>
<div class="c" style="left:175px;top:215px;width:5px;height:8px;background:#800008"></div>
<div class="c" style="left:181px;top:215px;width:5px;height:5px;background:#004c00"></div>
<div class="c" style="left:188px;top:215px;width:5px;height:5px;background:#4a0004"></div>
<div class="c" style="left:154px;top:225px;width:9px;height:8px;background:#1c7e00"></div>
<div class="c" style="left:165px;top:225px;width:8px;height:8px;background:#ff0010"></div>
<div class="c" style="left:175px;top:225px;width:5px;height:8px;background:#d8000f"></div>
<div class="c" style="left:181px;top:222px;width:5px;height:5px;background:#800008"></div>
<div class="c" style="left:188px;top:222px;width:5px;height:5px;background:#24a800"></div>
<div class="c" style="left:181px;top:229px;width:5px;height:4px;background:#004c00"></div>
<div class="c" style="left:188px;top:229px;width:5px;height:4px;background:#ff0010"></div>
</div>
<div class="s" style="left:1490px;top:2px;width:190px;height:234px">
<div class="h" style="height:19px;line-height:21px">سرمايه گذاريها [+]</div>
<div class="c" style="left:0px;top:20px;width:72px;height:70px;background:#ff0010"><span style="font-size:5.0px;height:6.0px;line-height:6.0px;margin-top:1.0px">ولتجار</span><span style="font-size:5.0px;height:6.0px;line-height:6.0px">-5.92%</span></div>
<div class="c" style="left:74px;top:20px;width:57px;height:70px;background:#d8000f"><span style="font-size:4.0px;height:4.8px;line-height:4.8px;margin-top:0.8px">وصنا</span><span style="font-size:4.0px;height:4.8px;line-height:4.8px">-3.38%</span></div>
<div class="c" style="left:133px;top:20px;width:56px;height:70px;background:#ff0010"><span style="font-size:3.9px;height:4.7px;line-height:4.7px;margin-top:0.8px">ومدير</span><span style="font-size:3.9px;height:4.7px;line-height:4.7px">-4.08%</span></div>
<div class="c" style="left:0px;top:92px;width:50px;height:76px;background:#800008"><span style="font-size:3.8px;height:4.6px;line-height:4.6px;margin-top:0.8px">وساپا</span><span style="font-size:3.8px;height:4.6px;line-height:4.6px">-1.88%</span></div>
<div class="c k" style="left:0px;top:170px;width:50px;height:63px;background:#37ff00"><span style="font-size:10.9px;margin-top:2px">شهر</span></div>
<div class="c" style="left:52px;top:92px;width:72px;height:43px;background:#004c00"><span style="font-size:10.9px;margin-top:2px">وسبحان</span></div>
<div class="c" style="left:126px;top:92px;width:63px;height:43px;background:#004c00"><span style="font-size:10.9px;margin-top:2px">سدبير</span></div>
<div class="c" style="left:52px;top:137px;width:42px;height:41px;background:#b0000c"><span style="font-size:10.9px;margin-top:2px">پرديس</span></div>
<div class="c" style="left:52px;top:180px;width:42px;height:26px;background:#800008"><span style="font-size:10.9px;margin-top:2px">ومهان</span></div>
<div class="c" style="left:52px;top:208px;width:42px;height:25px;background:#ff0010"><span style="font-size:10.9px;margin-top:2px">وگستر</span></div>
<div class="c k" style="left:96px;top:137px;width:31px;height:27px;background:#37ff00"><span style="font-size:10.9px;margin-top:2px">آريان</span></div>
<div class="c" style="left:129px;top:137px;width:31px;height:27px;background:#ff0010"><span style="font-size:10.9px;margin-top:2px">وط...</span></div>
<div class="c" style="left:162px;top:137px;width:27px;height:27px;background:#004c00"></div>
<div class="c" style="left:96px;top:166px;width:27px;height:25px;background:#800008"><span style="font-size:10.9px;margin-top:2px">و...</span></div>
<div class="c" style="left:96px;top:193px;width:27px;height:21px;background:#4a0004"><span style="font-size:10.9px;margin-top:2px">و...</span></div>
<div class="c" style="left:96px;top:216px;width:27px;height:17px;background:#004c00"></div>
<div class="c" style="left:125px;top:166px;width:22px;height:19px;background:#4a0004"></div>
<div class="c" style="left:149px;top:166px;width:19px;height:19px;background:#800008"></div>
<div class="c" style="left:170px;top:166px;width:19px;height:19px;background:#4a0004"></div>
<div class="c" style="left:125px;top:187px;width:16px;height:23px;background:#4a0004"></div>
<div class="c" style="left:125px;top:212px;width:16px;height:21px;background:#d8000f"></div>
<div class="c" style="left:143px;top:187px;width:17px;height:16px;background:#800008"></div>
<div class="c" style="left:162px;top:187px;width:14px;height:16px;background:#800008"></div>
<div class="c" style="left:178px;top:187px;width:11px;height:16px;background:#4a0004"></div>
<div class="c" style="left:143px;top:205px;width:17px;height:13px;background:#800008"></div>
<div class="c" style="left:162px;top:205px;width:14px;height:11px;background:#800008"></div>
<div class="c" style="left:178px;top:205px;width:11px;height:11px;background:#4a0004"></div>
<div class="c" style="left:143px;top:220px;width:17px;height:13px;background:#b0000c"></div>
<div class="c" style="left:162px;top:218px;width:7px;height:15px;background:#b0000c"></div>
<div class="c" style="left:171px;top:218px;width:13px;height:7px;background:#b0000c"></div>
<div class="c" style="left:171px;top:227px;width:13px;height:6px;background:#004c00"></div>
<div class="c" style="left:186px;top:218px;width:3px;height:15px;background:#1c7e00"></div>
</div>
<div class="s" style="left:1683px;top:2px;width:183px;height:234px">
<div class="h" style="height:19px;line-height:21px">حمل ونقل، انبارداري و ارتباطات [+]</div>
<div class="c" style="left:0px;top:20px;width:114px;height:103px;background:#800008"><span style="font-size:12.3px;height:14.8px;line-height:14.8px;margin-top:2.5px">حفارس</span><span style="font-size:12.3px;height:14.8px;line-height:14.8px">-1.72%</span></div>
<div class="c k" style="left:116px;top:20px;width:67px;height:103px;background:#37ff00"><span style="font-size:6.9px;height:8.3px;line-height:8.3px;margin-top:1.4px">حبرتو</span><span style="font-size:6.9px;height:8.3px;line-height:8.3px">5.98%</span></div>
<div class="c" style="left:0px;top:125px;width:74px;height:65px;background:#800008"><span style="font-size:4.8px;height:5.8px;line-height:5.8px;margin-top:1.0px">حكشتي</span><span style="font-size:4.8px;height:5.8px;line-height:5.8px">-1.76%</span></div>
<div class="c" style="left:0px;top:192px;width:74px;height:41px;background:#b0000c"><span style="font-size:10.9px;margin-top:2px">حسينا</span></div>
<div class="c" style="left:76px;top:125px;width:58px;height:49px;background:#1c7e00"><span style="font-size:10.9px;margin-top:2px">حگهر</span></div>
<div class="c k" style="left:136px;top:125px;width:47px;height:49px;background:#37ff00"><span style="font-size:10.9px;margin-top:2px">حتايد</span></div>
<div class="c" style="left:76px;top:177px;width:41px;height:27px;background:#1c7e00"><span style="font-size:10.9px;margin-top:2px">توريل</span></div>
<div class="c k" style="left:76px;top:206px;width:41px;height:27px;background:#37ff00"><span style="font-size:10.9px;margin-top:2px">حتوكا</span></div>
<div class="c" style="left:119px;top:177px;width:32px;height:29px;background:#d8000f"><span style="font-size:10.9px;margin-top:2px">حآ...</span></div>
<div class="c" style="left:119px;top:208px;width:32px;height:25px;background:#4a0004"><span style="font-size:10.9px;margin-top:2px">ح...</span></div>
<div class="c" style="left:153px;top:177px;width:30px;height:21px;background:#ff0010"><span style="font-size:10.9px;margin-top:2px">حپا...</span></div>
<div class="c" style="left:153px;top:200px;width:30px;height:15px;background:#004c00"></div>
<div class="c" style="left:153px;top:217px;width:15px;height:16px;background:#b0000c"></div>
<div class="c" style="left:170px;top:217px;width:13px;height:16px;background:#004c00"></div>
</div>
<div class="s" style="left:1293px;top:238px;width:175px;height:168px">
<div class="h" style="height:20px;line-height:22px">سيمان، آهك و گچ [+]</div>
<div class="c" style="left:0px;top:21px;width:50px;height:52px;background:#4a0004"><span style="font-size:10.9px;margin-top:2px">ستران</span></div>
<div class="c k" style="left:0px;top:75px;width:50px;height:52px;background:#37ff00"><span style="font-size:10.9px;margin-top:2px">سجام</span></div>
<div class="c" style="left:0px;top:129px;width:50px;height:38px;background:#24a800"><span style="font-size:10.9px;margin-top:2px">سبزوا</span></div>
<div class="c k" style="left:52px;top:21px;width:50px;height:37px;background:#37ff00"><span style="font-size:10.9px;margin-top:2px">سفارس</span></div>
<div class="c" style="left:104px;top:21px;width:40px;height:37px;background:#d8000f"><span style="font-size:10.9px;margin-top:2px">س...</span></div>
<div class="c" style="left:146px;top:21px;width:28px;height:37px;background:#4a0004"></div>
<div class="c" style="left:52px;top:61px;width:26px;height:34px;background:#4a0004"></div>
<div class="c" style="left:52px;top:98px;width:26px;height:34px;background:#004c00"></div>
<div class="c" style="left:52px;top:134px;width:26px;height:33px;background:#24a800"></div>
<div class="c" style="left:80px;top:61px;width:33px;height:24px;background:#800008"><span style="font-size:10.9px;margin-top:2px">س...</span></div>
<div class="c" style="left:115px;top:61px;width:29px;height:24px;background:#1c7e00"><span style="font-size:10.9px;margin-top:2px">س...</span></div>
<div class="c" style="left:146px;top:61px;width:28px;height:24px;background:#800008"></div>
<div class="c" style="left:80px;top:87px;width:24px;height:28px;background:#ff0010"></div>
<div class="c" style="left:80px;top:117px;width:24px;height:25px;background:#004c00"><span style="font-size:10.9px;margin-top:2px">ار...</span></div>
<div class="c" style="left:80px;top:144px;width:24px;height:23px;background:#ff0010"></div>
<div class="c" style="left:106px;top:87px;width:22px;height:21px;background:#d8000f"></div>
<div class="c k" style="left:130px;top:87px;width:21px;height:21px;background:#37ff00"></div>
<div class="c k" style="left:153px;top:87px;width:21px;height:21px;background:#2dd100"></div>
<div class="c" style="left:106px;top:110px;width:22px;height:19px;background:#d8000f"></div>
<div class="c" style="left:106px;top:131px;width:22px;height:17px;background:#004c00"></div>
<div class="c" style="left:106px;top:150px;width:22px;height:17px;background:#004c00"></div>
<div class="c" style="left:130px;top:110px;width:17px;height:18px;background:#4a0004"></div>
<div class="c" style="left:149px;top:110px;width:12px;height:18px;background:#004c00"></div>
<div class="c" style="left:163px;top:110px;width:11px;height:18px;background:#4a0004"></div>
<div class="c" style="left:130px;top:130px;width:15px;height:12px;background:#4a0004"></div>
<div class="c k" style="left:147px;top:130px;width:13px;height:12px;background:#37ff00"></div>
<div class="c" style="left:162px;top:130px;width:12px;height:12px;background:#4a0004"></div>
<div class="c" style="left:130px;top:144px;width:15px;height:10px;background:#800008"></div>
<div class="c k" style="left:130px;top:156px;width:15px;height:11px;background:#2dd100"></div>
<div class="c" style="left:147px;top:144px;width:12px;height:12px;background:#4a0004"></div>
<div class="c" style="left:161px;top:144px;width:13px;height:9px;background:#4a0004"></div>
<div class="c" style="left:147px;top:158px;width:12px;height:9px;background:#4a0004"></div>
<div class="c" style="left:161px;top:155px;width:9px;height:5px;background:#004c00"></div>
<div class="c" style="left:161px;top:162px;width:9px;height:5px;background:#d8000f"></div>
<div class="c" style="left:172px;top:155px;width:2px;height:12px;background:#4a0004"></div>
</div>
<div class="s" style="left:1470px;top:238px;width:140px;height:158px">
<div class="h" style="height:20px;line-height:22px">لاستيك و پلاستيك [+]</div>
<div class="c" style="left:0px;top:21px;width:80px;height:136px;background:#1c7e00"><span style="font-size:12.0px;height:14.4px;line-height:14.4px;margin-top:2.4px">پكرمان</span><span style="font-size:12.0px;height:14.4px;line-height:14.4px">1.21%</span></div>
<div class="c" style="left:82px;top:21px;width:57px;height:50px;background:#1c7e00"><span style="font-size:10.9px;margin-top:2px">پتاير</span></div>
<div class="c k" style="left:82px;top:73px;width:57px;height:34px;background:#37ff00"><span style="font-size:10.9px;margin-top:2px">پلاسك</span></div>
<div class="c" style="left:82px;top:109px;width:32px;height:48px;background:#4a0004"><span style="font-size:10.9px;margin-top:2px">پكو...</span></div>
<div class="c" style="left:116px;top:109px;width:23px;height:17px;background:#4a0004"></div>
<div class="c" style="left:116px;top:128px;width:23px;height:12px;background:#24a800"></div>
<div class="c" style="left:116px;top:142px;width:15px;height:15px;background:#800008"></div>
<div class="c" style="left:133px;top:142px;width:6px;height:15px;background:#1c7e00"></div>
</div>
<div class="s" style="left:1613px;top:238px;width:129px;height:158px">
<div class="h" style="height:20px;line-height:22px">زراعت و خدمات وابسته [+]</div>
<div class="c" style="left:0px;top:21px;width:88px;height:65px;background:#ff0010"><span style="font-size:5.7px;height:6.8px;line-height:6.8px;margin-top:1.1px">زماهان</span><span style="font-size:5.7px;height:6.8px;line-height:6.8px">-5.89%</span></div>
<div class="c" style="left:90px;top:21px;width:38px;height:65px;background:#1c7e00"><span style="font-size:10.9px;margin-top:2px">سپيد</span></div>
<div class="c" style="left:0px;top:88px;width:41px;height:35px;background:#004c00"><span style="font-size:10.9px;margin-top:2px">زفجر</span></div>
<div class="c" style="left:0px;top:125px;width:41px;height:32px;background:#004c00"><span style="font-size:10.9px;margin-top:2px">زكوثر</span></div>
<div class="c" style="left:43px;top:88px;width:37px;height:35px;background:#1c7e00"><span style="font-size:10.9px;margin-top:2px">زشگزا</span></div>
<div class="c" style="left:43px;top:125px;width:37px;height:32px;background:#1c7e00"><span style="font-size:10.9px;margin-top:2px">سيم...</span></div>
<div class="c" style="left:82px;top:88px;width:26px;height:30px;background:#004c00"><span style="font-size:10.9px;margin-top:2px">ت...</span></div>
<div class="c" style="left:110px;top:88px;width:18px;height:30px;background:#1c7e00"></div>
<div class="c k" style="left:82px;top:120px;width:26px;height:18px;background:#2dd100"></div>
<div class="c" style="left:110px;top:120px;width:18px;height:15px;background:#004c00"></div>
<div class="c" style="left:82px;top:140px;width:26px;height:17px;background:#004c00"></div>
<div class="c" style="left:110px;top:137px;width:18px;height:9px;background:#b0000c"></div>
<div class="c" style="left:110px;top:148px;width:6px;height:9px;background:#4a0004"></div>
<div class="c" style="left:118px;top:148px;width:7px;height:9px;background:#800008"></div>
<div class="c" style="left:126px;top:148px;width:2px;height:9px;background:#b0000c"></div>
</div>
<div class="s" style="left:1745px;top:238px;width:121px;height:158px">
<div class="h" style="height:20px;line-height:22px">... ساير محصولات كاني [+]</div>
<div class="c" style="left:0px;top:21px;width:66px;height:49px;background:#ff0010"><span style="font-size:10.9px;margin-top:2px">كمرجان</span></div>
<div class="c" style="left:68px;top:21px;width:53px;height:49px;background:#24a800"><span style="font-size:10.9px;margin-top:2px">كساپا</span></div>
<div class="c k" style="left:0px;top:72px;width:54px;height:46px;background:#37ff00"><span style="font-size:10.9px;margin-top:2px">كسرام</span></div>
<div class="c" style="left:0px;top:120px;width:54px;height:37px;background:#800008"><span style="font-size:10.9px;margin-top:2px">كسرا</span></div>
<div class="c" style="left:56px;top:72px;width:33px;height:28px;background:#b0000c"><span style="font-size:10.9px;margin-top:2px">كتوكا</span></div>
<div class="c" style="left:91px;top:72px;width:30px;height:28px;background:#1c7e00"><span style="font-size:10.9px;margin-top:2px">كخ...</span></div>
<div class="c" style="left:56px;top:102px;width:24px;height:31px;background:#4a0004"><span style="font-size:10.9px;margin-top:2px">كا...</span></div>
<div class="c" style="left:56px;top:135px;width:24px;height:22px;background:#800008"></div>
<div class="c" style="left:82px;top:102px;width:20px;height:26px;background:#004c00"></div>
<div class="c" style="left:104px;top:102px;width:17px;height:26px;background:#4a0004"></div>
<div class="c" style="left:82px;top:130px;width:13px;height:27px;background:#800008"></div>
<div class="c" style="left:97px;top:130px;width:24px;height:15px;background:#4a0004"></div>
<div class="c" style="left:97px;top:147px;width:24px;height:10px;background:#24a800"></div>
</div>
<div class="s" style="left:1293px;top:408px;width:175px;height:137px">
<div class="h" style="height:20px;line-height:22px">عرضه برق، گاز، بخاروآب گرم [+]</div>
<div class="c" style="left:0px;top:21px;width:70px;height:115px;background:#24a800"><span style="font-size:9.5px;height:11.4px;line-height:11.4px;margin-top:1.9px">ونيرو</span><span style="font-size:9.5px;height:11.4px;line-height:11.4px">2.99%</span></div>
<div class="c" style="left:72px;top:21px;width:102px;height:56px;background:#1c7e00"><span style="font-size:6.2px;height:7.4px;line-height:7.4px;margin-top:1.2px">بفجر</span><span style="font-size:6.2px;height:7.4px;line-height:7.4px">1.51%</span></div>
<div class="c" style="left:72px;top:79px;width:40px;height:57px;background:#1c7e00"><span style="font-size:10.9px;margin-top:2px">مبين</span></div>
<div class="c" style="left:114px;top:79px;width:30px;height:29px;background:#d8000f"><span style="font-size:10.9px;margin-top:2px">بج...</span></div>
<div class="c" style="left:114px;top:110px;width:30px;height:26px;background:#b0000c"><span style="font-size:10.9px;margin-top:2px">دم...</span></div>
<div class="c" style="left:146px;top:79px;width:14px;height:25px;background:#800008"></div>
<div class="c" style="left:162px;top:79px;width:12px;height:25px;background:#b0000c"></div>
<div class="c" style="left:146px;top:106px;width:14px;height:12px;background:#b0000c"></div>
<div class="c" style="left:162px;top:106px;width:12px;height:12px;background:#004c00"></div>
<div class="c" style="left:146px;top:120px;width:7px;height:16px;background:#b0000c"></div>
<div class="c" style="left:155px;top:120px;width:14px;height:7px;background:#1c7e00"></div>
<div class="c" style="left:155px;top:129px;width:14px;height:7px;background:#4a0004"></div>
<div class="c" style="left:171px;top:120px;width:3px;height:16px;background:#4a0004"></div>
</div>
<div class="s" style="left:1293px;top:547px;width:175px;height:127px">
<div class="h" style="height:20px;line-height:22px">...فعاليتهاي كمكي به نهادهاي مالي و [+]</div>
<div class="c" style="left:0px;top:21px;width:53px;height:105px;background:#800008"><span style="font-size:5.6px;height:6.7px;line-height:6.7px;margin-top:1.1px">فرابورس</span><span style="font-size:5.6px;height:6.7px;line-height:6.7px">-1.8%</span></div>
<div class="c" style="left:55px;top:21px;width:69px;height:62px;background:#800008"><span style="font-size:4.3px;height:5.2px;line-height:5.2px;margin-top:0.9px">بورس</span><span style="font-size:4.3px;height:5.2px;line-height:5.2px">-1.95%</span></div>
<div class="c k" style="left:55px;top:85px;width:69px;height:41px;background:#37ff00"><span style="font-size:10.9px;margin-top:2px">تكاردان</span></div>
<div class="c" style="left:126px;top:21px;width:48px;height:57px;background:#24a800"><span style="font-size:10.9px;margin-top:2px">انرژي</span></div>
<div class="c" style="left:126px;top:80px;width:22px;height:24px;background:#4a0004"></div>
<div class="c" style="left:126px;top:106px;width:22px;height:20px;background:#b0000c"></div>
<div class="c" style="left:150px;top:80px;width:24px;height:17px;background:#800008"></div>
<div class="c" style="left:150px;top:99px;width:12px;height:22px;background:#1c7e00"></div>
<div class="c" style="left:164px;top:99px;width:10px;height:22px;background:#004c00"></div>
<div class="c" style="left:150px;top:123px;width:24px;height:3px;background:#1c7e00"></div>
</div>
<div class="s" style="left:1470px;top:398px;width:98px;height:152px">
<div class="h" style="height:20px;line-height:22px">...رايانه و فعاليت‌ه [+]</div>
<div class="c" style="left:0px;top:21px;width:61px;height:54px;background:#800008"><span style="font-size:10.9px;margin-top:2px">فن افزار</span></div>
<div class="c" style="left:63px;top:21px;width:34px;height:54px;background:#b0000c"><span style="font-size:10.9px;margin-top:2px">س...</span></div>
<div class="c" style="left:0px;top:77px;width:40px;height:45px;background:#ff0010"><span style="font-size:10.9px;margin-top:2px">توسن</span></div>
<div class="c" style="left:0px;top:124px;width:40px;height:28px;background:#004c00"><span style="font-size:10.9px;margin-top:2px">تپسي</span></div>
<div class="c" style="left:42px;top:77px;width:29px;height:32px;background:#1c7e00"><span style="font-size:10.9px;margin-top:2px">س...</span></div>
<div class="c" style="left:73px;top:77px;width:24px;height:32px;background:#ff0010"><span style="font-size:10.9px;margin-top:2px">م...</span></div>
<div class="c" style="left:42px;top:111px;width:29px;height:24px;background:#4a0004"><span style="font-size:10.9px;margin-top:2px">تا...</span></div>
<div class="c" style="left:42px;top:137px;width:29px;height:15px;background:#ff0010"></div>
<div class="c" style="left:73px;top:111px;width:11px;height:19px;background:#004c00"></div>
<div class="c" style="left:86px;top:111px;width:11px;height:19px;background:#800008"></div>
<div class="c" style="left:73px;top:132px;width:9px;height:20px;background:#b0000c"></div>
<div class="c" style="left:84px;top:132px;width:13px;height:13px;background:#d8000f"></div>
<div class="c" style="left:84px;top:147px;width:11px;height:5px;background:#800008"></div>
</div>
<div class="s" style="left:1470px;top:553px;width:98px;height:121px">
<div class="h" style="height:19px;line-height:21px">هتل و رستوران [+]</div>
<div class="c" style="left:0px;top:20px;width:55px;height:78px;background:#24a800"><span style="font-size:4.3px;height:5.2px;line-height:5.2px;margin-top:0.9px">گكيا</span><span style="font-size:4.3px;height:5.2px;line-height:5.2px">2.38%</span></div>
<div class="c" style="left:57px;top:20px;width:40px;height:78px;background:#ff0010"><span style="font-size:10.9px;margin-top:2px">آباد</span></div>
<div class="c" style="left:0px;top:100px;width:58px;height:20px;background:#b0000c"><span style="font-size:10.9px;margin-top:2px">سمگا</span></div>
<div class="c" style="left:60px;top:100px;width:37px;height:20px;background:#1c7e00"><span style="font-size:10.9px;margin-top:2px">گكوثر</span></div>
</div>
<div class="s" style="left:1571px;top:398px;width:89px;height:117px">
<div class="h" style="height:20px;line-height:22px">... ماشين آلات و [+]</div>
<div class="c" style="left:0px;top:21px;width:59px;height:52px;background:#800008"><span style="font-size:10.9px;margin-top:2px">لابسا</span></div>
<div class="c" style="left:61px;top:21px;width:27px;height:52px;background:#4a0004"><span style="font-size:10.9px;margin-top:2px">تايرا</span></div>
<div class="c" style="left:0px;top:75px;width:26px;height:41px;background:#1c7e00"><span style="font-size:10.9px;margin-top:2px">ل...</span></div>
<div class="c k" style="left:28px;top:75px;width:27px;height:22px;background:#37ff00"><span style="font-size:10.9px;margin-top:2px">ل...</span></div>
<div class="c" style="left:28px;top:99px;width:27px;height:17px;background:#004c00"></div>
<div class="c k" style="left:57px;top:75px;width:16px;height:25px;background:#37ff00"></div>
<div class="c" style="left:75px;top:75px;width:13px;height:25px;background:#b0000c"></div>
<div class="c" style="left:57px;top:103px;width:10px;height:13px;background:#b0000c"></div>
<div class="c" style="left:69px;top:103px;width:9px;height:13px;background:#800008"></div>
<div class="c" style="left:80px;top:103px;width:8px;height:6px;background:#b0000c"></div>
<div class="c k" style="left:80px;top:111px;width:8px;height:5px;background:#37ff00"></div>
</div>
<div class="s" style="left:1571px;top:518px;width:89px;height:82px">
<div class="h" style="height:19px;line-height:21px">... ساير واسطه [+]</div>
<div class="c" style="left:0px;top:20px;width:42px;height:36px;background:#ff0010"><span style="font-size:10.9px;margin-top:2px">ولكار</span></div>
<div class="c" style="left:0px;top:58px;width:42px;height:23px;background:#1c7e00"><span style="font-size:10.9px;margin-top:2px">وايران</span></div>
<div class="c" style="left:44px;top:20px;width:27px;height:28px;background:#d8000f"><span style="font-size:10.9px;margin-top:2px">و...</span></div>
<div class="c" style="left:73px;top:20px;width:15px;height:28px;background:#ff0010"></div>
<div class="c" style="left:44px;top:50px;width:21px;height:16px;background:#d8000f"></div>
<div class="c k" style="left:44px;top:68px;width:21px;height:13px;background:#37ff00"></div>
<div class="c" style="left:67px;top:50px;width:21px;height:13px;background:#800008"></div>
<div class="c" style="left:67px;top:65px;width:10px;height:16px;background:#4a0004"></div>
<div class="c" style="left:79px;top:65px;width:9px;height:16px;background:#800008"></div>
</div>
<div class="s" style="left:1571px;top:603px;width:89px;height:71px">
<div class="h" style="height:19px;line-height:21px">قند و شكر [+]</div>
<div class="c k" style="left:0px;top:20px;width:25px;height:50px;background:#37ff00"><span style="font-size:10.9px;margin-top:2px">ق...</span></div>
<div class="c" style="left:27px;top:20px;width:28px;height:24px;background:#800008"><span style="font-size:10.9px;margin-top:2px">ق...</span></div>
<div class="c k" style="left:27px;top:46px;width:28px;height:24px;background:#37ff00"><span style="font-size:10.9px;margin-top:2px">ق...</span></div>
<div class="c" style="left:57px;top:20px;width:15px;height:15px;background:#800008"></div>
<div class="c" style="left:74px;top:20px;width:14px;height:15px;background:#004c00"></div>
<div class="c" style="left:57px;top:37px;width:16px;height:14px;background:#1c7e00"></div>
<div class="c" style="left:75px;top:37px;width:13px;height:14px;background:#1c7e00"></div>
<div class="c" style="left:57px;top:53px;width:8px;height:17px;background:#4a0004"></div>
<div class="c" style="left:67px;top:53px;width:7px;height:17px;background:#004c00"></div>
<div class="c" style="left:76px;top:53px;width:12px;height:9px;background:#004c00"></div>
<div class="c k" style="left:76px;top:64px;width:8px;height:6px;background:#2dd100"></div>
<div class="c k" style="left:85px;top:64px;width:3px;height:6px;background:#37ff00"></div>
</div>
<div class="s" style="left:1662px;top:398px;width:70px;height:90px">
<div class="h" style="height:20px;line-height:22px">... كاشي و [+]</div>
<div class="c" style="left:0px;top:21px;width:44px;height:42px;background:#ff0010"><span style="font-size:10.9px;margin-top:2px">كترام</span></div>
<div class="c k" style="left:0px;top:65px;width:44px;height:25px;background:#2dd100"><span style="font-size:10.9px;margin-top:2px">كسعد...</span></div>
<div class="c" style="left:46px;top:21px;width:23px;height:41px;background:#1c7e00"></div>
<div class="c" style="left:46px;top:64px;width:23px;height:12px;background:#24a800"></div>
<div class="c k" style="left:46px;top:78px;width:19px;height:12px;background:#2dd100"></div>
<div class="c" style="left:67px;top:78px;width:2px;height:12px;background:#4a0004"></div>
</div>
<div class="s" style="left:1735px;top:398px;width:70px;height:90px">
<div class="h" style="height:20px;line-height:22px">مخابرات [+]</div>
<div class="c" style="left:0px;top:21px;width:69px;height:61px;background:#ff0010"><span style="font-size:4.2px;height:5.0px;line-height:5.0px;margin-top:0.8px">اخابر</span><span style="font-size:4.2px;height:5.0px;line-height:5.0px">-4.03%</span></div>
<div class="c" style="left:0px;top:84px;width:69px;height:6px;background:#004c00"></div>
</div>
<div class="s" style="left:1807px;top:398px;width:59px;height:90px">
<div class="h" style="height:20px;line-height:22px">...خدمات [+]</div>
<div class="c" style="left:0px;top:21px;width:59px;height:63px;background:#1c7e00"><span style="font-size:3.7px;height:4.4px;line-height:4.4px;margin-top:0.7px">رمپنا</span><span style="font-size:3.7px;height:4.4px;line-height:4.4px">1.88%</span></div>
<div class="c" style="left:0px;top:86px;width:59px;height:4px;background:#d8000f"></div>
</div>
<div class="s" style="left:1662px;top:491px;width:77px;height:65px">
<div class="h" style="height:19px;line-height:21px">...ماشين آلا [+]</div>
<div class="c" style="left:0px;top:20px;width:26px;height:44px;background:#b0000c"><span style="font-size:10.9px;margin-top:2px">ب...</span></div>
<div class="c k" style="left:28px;top:20px;width:15px;height:23px;background:#2dd100"></div>
<div class="c" style="left:28px;top:45px;width:15px;height:19px;background:#b0000c"></div>
<div class="c" style="left:45px;top:20px;width:14px;height:19px;background:#800008"></div>
<div class="c" style="left:61px;top:20px;width:15px;height:19px;background:#800008"></div>
<div class="c" style="left:45px;top:41px;width:16px;height:11px;background:#4a0004"></div>
<div class="c" style="left:63px;top:41px;width:13px;height:12px;background:#b0000c"></div>
<div class="c" style="left:45px;top:54px;width:16px;height:10px;background:#4a0004"></div>
<div class="c" style="left:63px;top:55px;width:13px;height:9px;background:#ff0010"></div>
</div>
<div class="s" style="left:1741px;top:491px;width:66px;height:57px">
<div class="h" style="height:19px;line-height:21px">... استخراج [+]</div>
<div class="c k" style="left:0px;top:20px;width:36px;height:36px;background:#37ff00"><span style="font-size:10.9px;margin-top:2px">كط...</span></div>
<div class="c" style="left:38px;top:20px;width:27px;height:28px;background:#4a0004"><span style="font-size:10.9px;margin-top:2px">كز...</span></div>
<div class="c" style="left:38px;top:50px;width:15px;height:6px;background:#d8000f"></div>
<div class="c" style="left:55px;top:50px;width:10px;height:6px;background:#4a0004"></div>
</div>
<div class="s" style="left:1809px;top:491px;width:57px;height:57px">
<div class="h" style="height:19px;line-height:21px">...اطلاعا [+]</div>
<div class="c" style="left:0px;top:20px;width:34px;height:36px;background:#4a0004"><span style="font-size:10.9px;margin-top:2px">ها...</span></div>
<div class="c" style="left:36px;top:20px;width:21px;height:27px;background:#ff0010"><span style="font-size:10.9px;margin-top:2px">ا...</span></div>
<div class="c" style="left:36px;top:49px;width:21px;height:7px;background:#4a0004"></div>
</div>
<div class="s" style="left:1662px;top:559px;width:77px;height:57px">
<div class="h" style="height:20px;line-height:22px">...توليد مح [+]</div>
<div class="c" style="left:0px;top:21px;width:76px;height:35px;background:#004c00"><span style="font-size:3.4px;height:4.1px;line-height:4.1px;margin-top:0.7px">فايرا</span><span style="font-size:3.4px;height:4.1px;line-height:4.1px">0.39%</span></div>
</div>
<div class="s" style="left:1662px;top:618px;width:77px;height:56px">
<div class="h" style="height:19px;line-height:21px">...ساخت مح [+]</div>
<div class="c" style="left:0px;top:20px;width:35px;height:35px;background:#ff0010"><span style="font-size:10.9px;margin-top:2px">فاذر</span></div>
<div class="c" style="left:37px;top:20px;width:22px;height:35px;background:#b0000c"></div>
<div class="c" style="left:61px;top:20px;width:15px;height:16px;background:#800008"></div>
<div class="c" style="left:61px;top:38px;width:15px;height:17px;background:#4a0004"></div>
</div>
<div class="s" style="left:1741px;top:550px;width:52px;height:63px">
<div class="h" style="height:20px;line-height:22px">...استخ [+]</div>
<div class="c" style="left:0px;top:21px;width:48px;height:41px;background:#1c7e00"><span style="font-size:10.9px;margin-top:2px">كماسه</span></div>
<div class="c" style="left:49px;top:21px;width:2px;height:41px;background:#800008"></div>
</div>
<div class="s" style="left:1796px;top:550px;width:70px;height:42px">
<div class="h" style="height:20px;line-height:22px">منسوجات [+]</div>
<div class="c" style="left:0px;top:21px;width:27px;height:20px;background:#004c00"></div>
<div class="c" style="left:29px;top:21px;width:25px;height:20px;background:#1c7e00"></div>
<div class="c k" style="left:56px;top:21px;width:14px;height:20px;background:#37ff00"></div>
</div>
<div class="s" style="left:1796px;top:594px;width:70px;height:33px">
<div class="h" style="height:20px;line-height:22px">...حمل و نق [+]</div>
<div class="c" style="left:0px;top:21px;width:70px;height:11px;background:#800008"></div>
</div>
<div class="s" style="left:1741px;top:614px;width:52px;height:60px">
<div class="h" style="height:20px;line-height:22px">...مح [+]</div>
<div class="c" style="left:0px;top:21px;width:31px;height:38px;background:#ff0010"><span style="font-size:10.9px;margin-top:2px">چكاپا</span></div>
<div class="c" style="left:33px;top:21px;width:18px;height:27px;background:#b0000c"></div>
<div class="c" style="left:33px;top:50px;width:18px;height:9px;background:#ff0010"></div>
</div>
<div class="s" style="left:1796px;top:629px;width:25px;height:45px">
<div class="h" style="height:21px;line-height:23px;direction:ltr">[+...</div>
<div class="c" style="left:0px;top:22px;width:19px;height:22px;background:#800008"></div>
<div class="c" style="left:21px;top:22px;width:4px;height:22px;background:#d8000f"></div>
</div>
<div class="s" style="left:1823px;top:629px;width:45px;height:45px">
<div class="h" style="height:21px;line-height:23px">...دبا [+]</div>
<div class="c w" style="left:0px;top:22px;width:18px;height:22px;background:#ffffff"></div>
<div class="c w" style="left:20px;top:22px;width:11px;height:22px;background:#ffffff"></div>
<div class="c w" style="left:33px;top:22px;width:11px;height:19px;background:#ffffff"></div>
<div class="c w" style="left:33px;top:43px;width:11px;height:1px;background:#ffffff"></div>
</div>
</div>
<div id="lg">
<div style="background:#ff0010">-5</div>
<div style="background:#d8000f">-4</div>
<div style="background:#b0000c">-3</div>
<div style="background:#800008">-2</div>
<div style="background:#4a0004">-1</div>
<div style="background:#666666">0</div>
<div style="background:#1c7e00">1</div>
<div style="background:#24a800">2</div>
<div style="background:#24a800">3</div>
<div style="background:#2dd100">4</div>
<div style="background:#37ff00">5</div>
</div>
</body></html>
